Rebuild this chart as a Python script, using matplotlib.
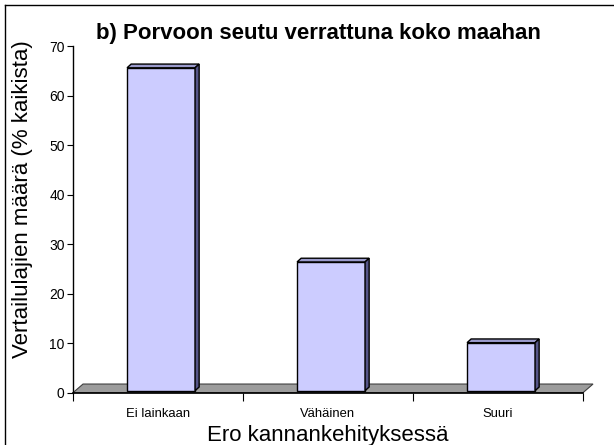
import numpy as np
import matplotlib.pyplot as plt
from matplotlib.patches import Polygon
from matplotlib.lines import Line2D

plt.rcParams['font.family'] = ['Liberation Sans', 'DejaVu Sans']

kategoriat = ['Ei lainkaan', 'Vähäinen', 'Suuri']
osuudet = [65.2, 26.0, 9.7]
y_ticks = [0, 10, 20, 30, 40, 50, 60, 70]

fig = plt.figure(figsize=(6.14, 4.45), dpi=100)
ax = fig.add_axes([73/614, 1-392.7/445, (583-73)/614, (392.7-46)/445])

# outer frame, only left and top edges are inside the picture
fx = 4.5/614
fy = 1-5/445
fig.lines.append(Line2D([fx, fx], [-0.05, fy], transform=fig.transFigure, color='black', lw=1))
fig.lines.append(Line2D([fx, 1.05], [fy, fy], transform=fig.transFigure, color='black', lw=1))

x = np.arange(len(kategoriat)) + 0.5
ax.set_xlim(0, 3)
ax.set_ylim(0, 70)

# floor
fdx, fdy = 0.059, 1.75
floor = Polygon([(0, 0), (3, 0), (3+fdx, fdy), (fdx, fdy)], closed=True,
                facecolor='#9c9c9c', edgecolor='#404040', lw=0.8, clip_on=False, zorder=1)
ax.add_patch(floor)

# bars with a bit of depth
base = 0.4
w = 0.4
off = 0.018
ddx, ddy = 0.024, 0.75
bars = ax.bar(x + off, osuudet, width=w, bottom=base, color='#ccccff',
              edgecolor='black', lw=1, zorder=3, clip_on=False)
for b in bars:
    x0 = b.get_x()
    x1 = x0 + b.get_width()
    top = b.get_y() + b.get_height()
    bot = b.get_y()
    ax.add_patch(Polygon([(x0, top), (x1, top), (x1+ddx, top+ddy), (x0+ddx, top+ddy)],
                         closed=True, facecolor='#9a9acc', edgecolor='black', lw=1,
                         zorder=3, clip_on=False))
    ax.add_patch(Polygon([(x1, bot), (x1+ddx, bot+ddy), (x1+ddx, top+ddy), (x1, top)],
                         closed=True, facecolor='#555588', edgecolor='black', lw=1,
                         zorder=3, clip_on=False))

ax.spines['top'].set_visible(False)
ax.spines['right'].set_visible(False)
ax.spines['left'].set_linewidth(1)
ax.spines['bottom'].set_linewidth(1.2)
ax.spines['bottom'].set_zorder(2)

ax.set_yticks(y_ticks)
ax.tick_params(axis='y', labelsize=10, length=4, width=0.8, pad=2)
ax.set_xticks([0, 1, 2, 3])
ax.set_xticklabels([])
ax.tick_params(axis='x', which='major', length=6, width=0.8)
ax.set_xticks(x, minor=True)
ax.set_xticklabels(kategoriat, minor=True)
ax.tick_params(axis='x', which='minor', length=0, labelsize=9.4, pad=11)

ax.set_ylabel('Vertailulajien määrä (% kaikista)', fontsize=16)
ax.yaxis.set_label_coords(-0.078, 0.559)
ax.set_xlabel('Ero kannankehityksessä', fontsize=16, labelpad=3.5)
fig.text(318/614, 1-33/445, 'b) Porvoon seutu verrattuna koko maahan', ha='center', va='center',
         fontsize=16, fontweight='bold')

fig.savefig('out.png', dpi=100)
